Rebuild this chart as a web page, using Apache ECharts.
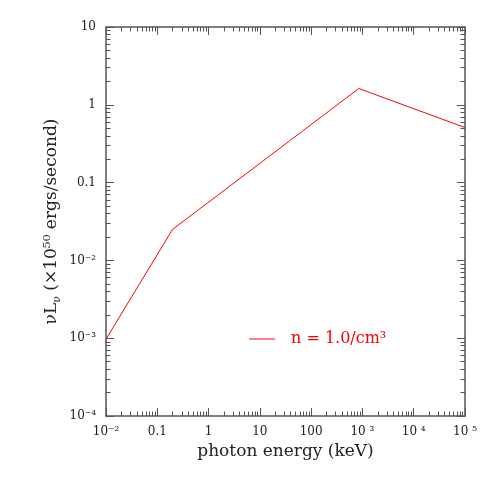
<!DOCTYPE html>
<html>
<head>
<meta charset="utf-8">
<script src="https://cdn.jsdelivr.net/npm/echarts@6/dist/echarts.min.js"></script>
<style>
  html, body { margin: 0; padding: 0; background: #fff; }
  #chart { width: 491px; height: 491px; }
</style>
</head>
<body>
<div id="chart"></div>
<script>
// photon energy (keV) and nu L_nu (10^50 erg/s)
var energies = [0.01, 0.198, 850, 100000]
var nuLnu = [0.00097, 0.025, 1.62, 0.51]
var seriesName = 'n = 1.0/cm³'

// tick labels (log10 exponent -> text)
var xTickLabels = { '-2': '10⁻²', '-1': '0.1', '0': '1', '1': '10', '2': '100', '3': '10 ³', '4': '10 ⁴', '5': '10 ⁵' }
var yTickLabels = { '-4': '10⁻⁴', '-3': '10⁻³', '-2': '10⁻²', '-1': '0.1', '0': '1', '1': '10' }

var FONT = 'DejaVu Serif'
var AXIS_COLOR = '#555'

// minor tick positions in log space (2..9 within each decade)
function minorTicks(lo, hi) {
  var out = []
  for (var d = lo; d < hi; d++) {
    for (var k = 2; k <= 9; k++) out.push(d + Math.log10(k))
  }
  return out
}

function tickAxis(pos, lo, hi, major, opts) {
  var ax = {
    type: 'value',
    position: pos,
    min: lo,
    max: hi,
    interval: 1,
    splitLine: { show: false },
    axisLine: { show: major, onZero: false, lineStyle: { color: AXIS_COLOR, width: 1.5 } },
    axisTick: {
      show: true,
      inside: true,
      length: major ? 8 : 4.5,
      lineStyle: { color: AXIS_COLOR, width: 1 }
    },
    axisLabel: { show: false }
  }
  if (!major) ax.axisTick.customValues = minorTicks(lo, hi)
  return Object.assign(ax, opts || {})
}

var chart = echarts.init(document.getElementById('chart'))

var option = {
  backgroundColor: '#ffffff',
  animation: false,
  grid: { left: 106, right: 26, top: 27, bottom: 75 },
  legend: {
    left: 249,
    top: 331,
    padding: 0,
    icon: 'rect',
    itemWidth: 26,
    itemHeight: 1,
    textStyle: { color: 'red', fontFamily: FONT, fontSize: 16, padding: [0, 0, 0, 11] },
    data: [seriesName]
  },
  xAxis: [
    { type: 'log', min: 0.01, max: 100000, show: false },
    tickAxis('bottom', -2, 5, true, {
      axisLabel: {
        show: true,
        margin: 10,
        color: '#222',
        fontFamily: FONT,
        fontSize: 12,
        formatter: function (v) { return xTickLabels[String(Math.round(v))] || '' }
      },
      name: 'photon energy (keV)',
      nameLocation: 'middle',
      nameGap: 27,
      nameTextStyle: { color: '#222', fontFamily: FONT, fontSize: 17 }
    }),
    tickAxis('bottom', -2, 5, false),
    tickAxis('top', -2, 5, true),
    tickAxis('top', -2, 5, false)
  ],
  yAxis: [
    { type: 'log', min: 0.0001, max: 10, show: false },
    tickAxis('left', -4, 1, true, {
      axisLabel: {
        show: true,
        margin: 10,
        color: '#222',
        fontFamily: FONT,
        fontSize: 12,
        formatter: function (v) { return yTickLabels[String(Math.round(v))] || '' }
      },
      name: '{a|νL}{s|ν}{a| (×10⁵⁰ ergs/second)}',
      nameLocation: 'middle',
      nameGap: 43,
      nameMoveOverlap: false,
      nameTextStyle: {
        color: '#222',
        fontFamily: FONT,
        fontSize: 17,
        rich: {
          a: { fontFamily: FONT, fontSize: 17, color: '#222', lineHeight: 22 },
          s: { fontFamily: FONT, fontSize: 11, color: '#222', lineHeight: 22, verticalAlign: 'bottom' }
        }
      }
    }),
    tickAxis('left', -4, 1, false),
    tickAxis('right', -4, 1, true),
    tickAxis('right', -4, 1, false)
  ],
  series: [
    {
      name: seriesName,
      type: 'line',
      xAxisIndex: 0,
      yAxisIndex: 0,
      symbol: 'none',
      lineStyle: { color: 'red', width: 1 },
      itemStyle: { color: 'red' },
      data: energies.map(function (e, i) { return [e, nuLnu[i]] })
    }
  ]
}

chart.setOption(option)
</script>
</body>
</html>
